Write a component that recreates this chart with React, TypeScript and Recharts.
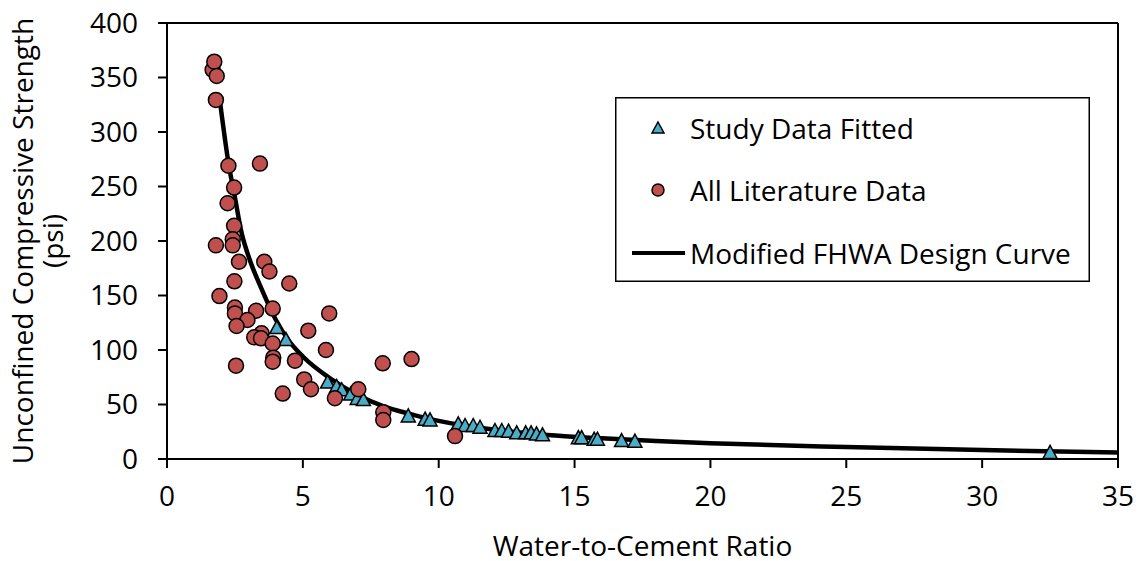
import React from 'react';
import { ScatterChart, Scatter, XAxis, YAxis, Legend, ReferenceLine, Label } from 'recharts';

const FONT = '"Open Sans", Lato, sans-serif';
const FS = 28;

const xTicks = [0, 5, 10, 15, 20, 25, 30, 35];
const yTicks = [0, 50, 100, 150, 200, 250, 300, 350, 400];

// Modified FHWA Design Curve
const curveX = [1.95, 2.26, 2.5, 2.75, 3, 3.5, 4, 4.5, 5, 6, 7, 8, 9, 10, 12, 14, 16, 18, 20, 25, 30, 35];
const curveY = [328, 272, 240, 207, 186, 155, 128, 108, 94, 74, 59, 48, 41, 35, 27, 22, 19, 16.5, 14.5, 11, 8.2, 6];

// Study Data Fitted
const studyX = [4.04, 4.38, 5.91, 6.24, 6.43, 6.76, 7.0, 7.23, 8.88, 9.5, 9.68, 10.72, 10.97, 11.27, 11.52, 12.07, 12.32, 12.57, 12.87, 13.2, 13.4, 13.6, 13.82, 15.14, 15.26, 15.72, 15.84, 16.73, 17.22, 32.5];
const studyY = [121, 110, 71, 67, 64, 60, 56, 55, 40, 37, 36.3, 32.7, 31.2, 31.2, 29.6, 26.6, 26.6, 26, 24.5, 24.5, 24.5, 23.5, 22.6, 20, 20, 18.6, 18.6, 17.4, 16.8, 6.5];

// All Literature Data
const litX = [1.68, 1.74, 1.83, 1.8, 2.26, 3.42, 2.47, 2.23, 2.47, 2.42, 1.8, 2.42, 2.65, 3.58, 3.77, 4.5, 2.48, 1.93, 2.5, 2.5, 3.28, 3.89, 2.96, 2.56, 5.97, 5.2, 3.48, 3.21, 3.46, 3.89, 5.85, 3.91, 3.89, 4.71, 2.54, 5.05, 5.3, 4.26, 6.18, 7.04, 7.94, 9.0, 7.96, 7.96, 10.6];
const litY = [357, 364.5, 351.4, 329.4, 269, 271, 249, 234.6, 214, 201.5, 196, 196, 181, 181, 172, 161, 163, 149.5, 139, 133.6, 136, 138, 127.5, 122, 133.6, 117.7, 115.3, 111.6, 110.7, 106, 100, 93, 89.3, 90.2, 85.6, 73, 64, 60, 55.7, 64, 87.8, 91.7, 42.8, 35.8, 21];

const curveData = curveX.map((x, i) => ({ x, y: curveY[i] }));
const studyData = studyX.map((x, i) => ({ x, y: studyY[i] }));
const litData = litX.map((x, i) => ({ x, y: litY[i] }));

const TEAL = '#4BACC6';
const RED = '#C0504D';

const Triangle = (props: any) => {
  const { cx, cy } = props;
  if (cx == null || cy == null) return <g />;
  return (
    <path
      d={`M${cx},${cy - 6.5} L${cx + 7},${cy + 6.5} L${cx - 7},${cy + 6.5} Z`}
      fill={TEAL}
      stroke="#000"
      strokeWidth={1.5}
      strokeLinejoin="miter"
    />
  );
};

const Dot = (props: any) => {
  const { cx, cy } = props;
  if (cx == null || cy == null) return <g />;
  return <circle cx={cx} cy={cy} r={7.5} fill={RED} stroke="#000" strokeWidth={1.5} />;
};

const Nothing = () => <g />;

const renderLegend = () => (
  <svg width={475} height={185} style={{ display: 'block' }}>
    <rect x={0.75} y={0.75} width={473.5} height={183.5} fill="#fff" stroke="#000" strokeWidth={1.5} />
    <path d="M43,25 L49,36 L37,36 Z" fill={TEAL} stroke="#000" strokeWidth={1.5} />
    <text x={75} y={31} dominantBaseline="central" fontFamily={FONT} fontSize={FS} fill="#000">Study Data Fitted</text>
    <circle cx={43} cy={93} r={6} fill={RED} stroke="#000" strokeWidth={1.5} />
    <text x={75} y={93} dominantBaseline="central" fontFamily={FONT} fontSize={FS} fill="#000">All Literature Data</text>
    <line x1={17} y1={156} x2={70} y2={156} stroke="#000" strokeWidth={4} />
    <text x={75} y={156} dominantBaseline="central" fontFamily={FONT} fontSize={FS} fill="#000">Modified FHWA Design Curve</text>
  </svg>
);

const YTitle = (props: any) => {
  const vb = props.viewBox || {};
  const cy = (vb.y ?? 23) + (vb.height ?? 436) / 2;
  return (
    <g>
      <text x={22} y={cy} transform={`rotate(-90, 22, ${cy})`} textAnchor="middle" dominantBaseline="central" fontFamily={FONT} fontSize={FS} fill="#000">
        Unconfined Compressive Strength
      </text>
      <text x={52} y={cy} transform={`rotate(-90, 52, ${cy})`} textAnchor="middle" dominantBaseline="central" fontFamily={FONT} fontSize={FS} fill="#000">
        (psi)
      </text>
    </g>
  );
};

const XTitle = (props: any) => {
  const vb = props.viewBox || {};
  const cx = (vb.x ?? 167) + (vb.width ?? 951) / 2;
  return (
    <text x={cx} y={545} textAnchor="middle" dominantBaseline="central" fontFamily={FONT} fontSize={FS} fill="#000">
      Water-to-Cement Ratio
    </text>
  );
};

export default function App() {
  return (
    <div style={{ position: 'absolute', left: 0, top: 0, width: 1138, height: 561, background: '#fff' }}>
      <ScatterChart width={1138} height={561} margin={{ top: 23, right: 20, left: 0, bottom: 0 }}>
        <XAxis
          type="number"
          dataKey="x"
          domain={[0, 35]}
          ticks={xTicks}
          allowDataOverflow
          height={102}
          tickSize={9}
          tickMargin={18}
          axisLine={{ stroke: '#000', strokeWidth: 2 }}
          tickLine={{ stroke: '#000', strokeWidth: 2 }}
          tick={{ fill: '#000', fontSize: FS, fontFamily: FONT }}
        >
          <Label content={<XTitle />} />
        </XAxis>
        <YAxis
          type="number"
          dataKey="y"
          domain={[0, 400]}
          ticks={yTicks}
          allowDataOverflow
          width={167}
          tickSize={9}
          tickMargin={20}
          axisLine={{ stroke: '#000', strokeWidth: 2 }}
          tickLine={{ stroke: '#000', strokeWidth: 2 }}
          tick={{ fill: '#000', fontSize: FS, fontFamily: FONT }}
        >
          <Label content={<YTitle />} />
        </YAxis>
        <ReferenceLine y={400} stroke="#000" strokeWidth={2} />
        <ReferenceLine x={35} stroke="#000" strokeWidth={2} />
        <Legend
          layout="vertical"
          align="center"
          verticalAlign="middle"
          content={renderLegend}
          wrapperStyle={{ position: 'absolute', left: 615, top: 97, width: 475, height: 185 }}
        />
        <Scatter
          name="Modified FHWA Design Curve"
          data={curveData}
          line={{ stroke: '#000', strokeWidth: 4.5 }}
          lineJointType="monotoneX"
          shape={<Nothing />}
          isAnimationActive={false}
          legendType="line"
        />
        <Scatter name="Study Data Fitted" data={studyData} shape={<Triangle />} isAnimationActive={false} />
        <Scatter name="All Literature Data" data={litData} shape={<Dot />} isAnimationActive={false} />
      </ScatterChart>
    </div>
  );
}
